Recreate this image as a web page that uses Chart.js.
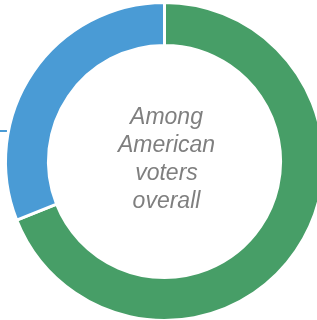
<!DOCTYPE html>
<html>
<head>
<meta charset="utf-8">
<script src="https://cdn.jsdelivr.net/npm/chart.js@4"></script>
<style>
  html, body { margin: 0; padding: 0; background: #fff; overflow: hidden; }
  #wrap { width: 317px; height: 320px; position: relative; }
</style>
</head>
<body>
<div id="wrap"><canvas id="c" width="317" height="320"></canvas></div>
<script>
const categories = ["Green segment", "Blue segment"];
const values = [69, 31];
const centerLines = ["Among", "American", "voters", "overall"];
const colors = ["#479e67", "#4a9bd5"];

const centerText = {
  id: 'centerText',
  afterDraw(chart) {
    const arc = chart.getDatasetMeta(0).data[0];
    if (!arc) return;
    const ctx = chart.ctx;
    const cx = arc.x, cy = arc.y;
    ctx.save();
    ctx.font = 'italic 23px "Liberation Sans", Arial, sans-serif';
    ctx.fillStyle = '#7f7f7f';
    ctx.textAlign = 'center';
    ctx.textBaseline = 'alphabetic';
    const lh = 28;
    centerLines.forEach((t, i) => {
      ctx.fillText(t, cx + 2, cy + (i - (centerLines.length - 1) / 2) * lh + 4);
    });
    // leader line for the blue segment's (off-canvas) label
    const blue = chart.getDatasetMeta(0).data[1];
    const R = blue.outerRadius;
    const dy = -30.5;
    const edgeX = cx - Math.sqrt(R * R - dy * dy);
    ctx.strokeStyle = colors[1];
    ctx.lineWidth = 2;
    ctx.beginPath();
    ctx.moveTo(0, Math.round(cy + dy));
    ctx.lineTo(edgeX - 1.5, Math.round(cy + dy));
    ctx.stroke();
    ctx.restore();
  }
};

new Chart(document.getElementById('c'), {
  type: 'doughnut',
  data: {
    labels: categories,
    datasets: [{
      data: values,
      backgroundColor: colors,
      borderColor: '#ffffff',
      borderWidth: 3,
      radius: 159,
      cutout: '73%',
      hoverOffset: 0
    }]
  },
  options: {
    responsive: false,
    animation: false,
    layout: { padding: { left: 12, right: 0, top: 3, bottom: 0 } },
    plugins: { legend: { display: false }, tooltip: { enabled: false } },
    events: []
  },
  plugins: [centerText]
});
</script>
</body>
</html>
